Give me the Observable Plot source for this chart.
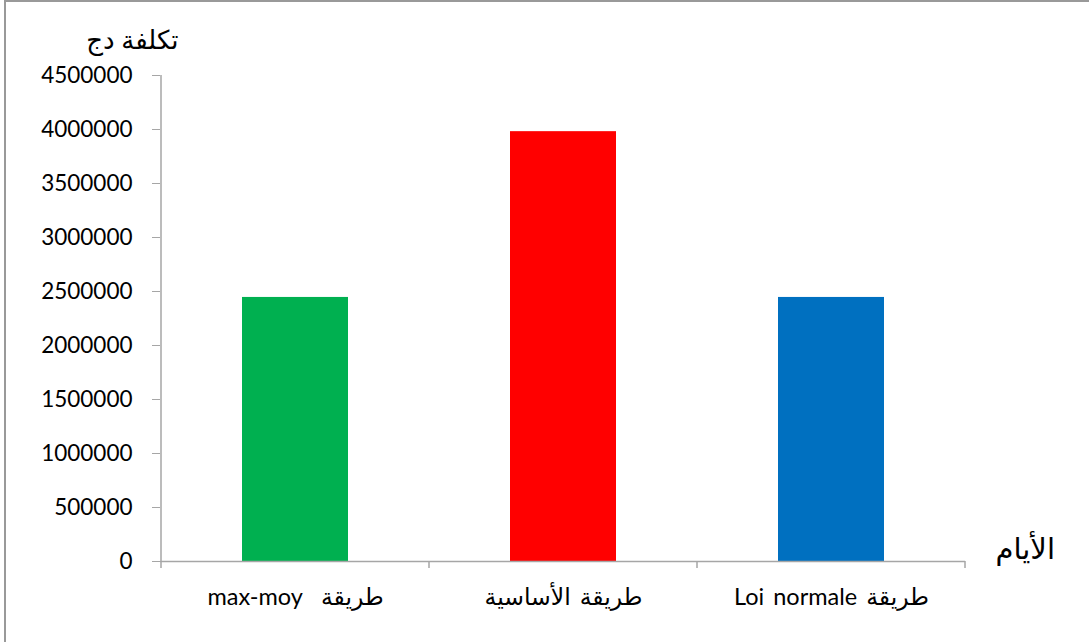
<!DOCTYPE html>
<html><head><meta charset="utf-8">
<script src="https://cdn.jsdelivr.net/npm/d3@7"></script>
<script src="https://cdn.jsdelivr.net/npm/@observablehq/plot@0.6"></script>
<style>
body{margin:0;background:#fff}
#wrap{position:relative;width:1089px;height:642px;overflow:hidden}
#border{position:absolute;left:4px;top:0px;width:1200px;height:700px;border:2px solid #999;box-sizing:border-box}
#wrap svg{position:absolute;left:0;top:0}
</style></head><body><div id="wrap"><div id="border"></div></div>
<script>
const categories = ["طريقة  max-moy", "طريقة الأساسية", "طريقة Loi normale"];
const costs = [2445000, 3980000, 2445000];
const barColors = ["#00B050", "#FF0000", "#0070C0"];
const yTicks = [0, 500000, 1000000, 1500000, 2000000, 2500000, 3000000, 3500000, 4000000, 4500000];
const yLabel = "تكلفة دج";
const xLabel = "الأيام";

const data = categories.map((c, i) => ({cat: c, cost: costs[i]}));
const axisGray = "#a6a6a6";
const font = "Lato, 'DejaVu Sans', sans-serif";

const chart = Plot.plot({
  width: 1089,
  height: 642,
  marginLeft: 160,
  marginRight: 124,
  marginTop: 75,
  marginBottom: 81,
  style: {fontFamily: font, fontSize: "22px", background: "transparent", color: "#000"},
  x: {domain: categories, paddingInner: 0.605, paddingOuter: 0.3025, label: null},
  y: {domain: [0, 4500000], label: null},
  color: {domain: categories, range: barColors},
  marks: [
    Plot.barY(data, {x: "cat", y: "cost", fill: "cat"}),
    Plot.ruleY([0], {stroke: axisGray, strokeWidth: 1.5}),
    Plot.axisY({ticks: yTicks, tickFormat: d => String(d), tickSize: 8, tickPadding: 20, stroke: axisGray, fill: "#000", fontSize: 22.5, label: null}),
    Plot.axisX({tickSize: 0, tickPadding: 27, fill: "#000", fontSize: 23.5, label: null}),
    Plot.text([yLabel], {text: d => d, frameAnchor: "top-left", dx: 18, dy: -35, textAnchor: "end", lineAnchor: "middle", fontSize: 26, fill: "#000"}),
    Plot.text([xLabel], {text: d => d, frameAnchor: "bottom-right", dx: 30, dy: -12, textAnchor: "start", lineAnchor: "middle", fontSize: 29, fill: "#000"})
  ]
});

document.getElementById("wrap").appendChild(chart);

// x tick labels: right-to-left base direction
d3.select(chart).selectAll('[aria-label="x-axis tick label"] text').attr("direction", "rtl").style("unicode-bidi", "embed").style("word-spacing", "3px");

// category boundary ticks and y axis line, derived from the scales
const xs = chart.scale("x");
const ys = chart.scale("y");
const gap = (xs.step - xs.bandwidth) / 2;
const bounds = categories.map(c => xs.apply(c) - gap);
bounds.push(xs.apply(categories[categories.length - 1]) + xs.bandwidth + gap);
const y0 = ys.apply(0);
const yTop = ys.apply(yTicks[yTicks.length - 1]);
const g = d3.select(chart).append("g").attr("stroke", axisGray).attr("stroke-width", 1.5);
g.append("line").attr("x1", bounds[0]).attr("x2", bounds[0]).attr("y1", yTop).attr("y2", y0);
bounds.forEach(b => g.append("line").attr("x1", b).attr("x2", b).attr("y1", y0).attr("y2", y0 + 7));
</script>
</body></html>
